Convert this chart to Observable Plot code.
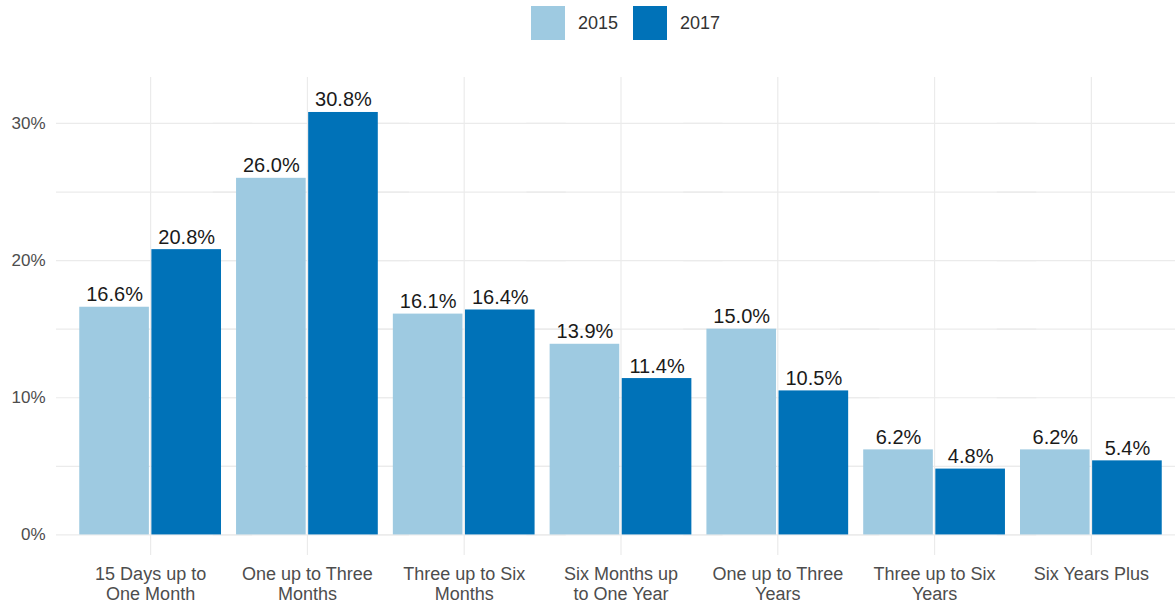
<!DOCTYPE html>
<html><head><meta charset="utf-8">
<script src="https://cdn.jsdelivr.net/npm/d3@7"></script>
<script src="https://cdn.jsdelivr.net/npm/@observablehq/plot@0.6"></script>
<style>
body{margin:0;background:#fff;font-family:"Liberation Sans",Arial,Helvetica,sans-serif;overflow:hidden;}
#legend{position:relative;height:50px;width:1175px;}
.item{position:absolute;top:6px;display:flex;align-items:center;height:34px;}
.sw{width:34px;height:34px;margin-right:13px;}
.lab{font-size:18px;color:#333;}
</style></head><body>
<div id="legend"></div><div id="chart"></div>
<script>
const categories = ["15 Days up to One Month","One up to Three Months","Three up to Six Months","Six Months up to One Year","One up to Three Years","Three up to Six Years","Six Years Plus"];
const tickLabels = ["15 Days up to\nOne Month","One up to Three\nMonths","Three up to Six\nMonths","Six Months up\nto One Year","One up to Three\nYears","Three up to Six\nYears","Six Years Plus"];
const years = ["2015","2017"];
const values2015 = [16.6, 26.0, 16.1, 13.9, 15.0, 6.2, 6.2];
const values2017 = [20.8, 30.8, 16.4, 11.4, 10.5, 4.8, 5.4];
const colors = ["#9ecae1","#0072b8"];
const yTicks = [0,10,20,30];
const yGrid = [0,5,10,15,20,25,30];
const yDomain = [-1.5, 33.35];

const data = categories.flatMap((c,i)=>[
  {category:c, year:years[0], value:values2015[i]},
  {category:c, year:years[1], value:values2017[i]}
]);

// legend
const leg = document.getElementById("legend");
const legX = [531, 633];
years.forEach((y,i)=>{
  const d = document.createElement("div");
  d.className="item"; d.style.left = legX[i]+"px";
  d.innerHTML = `<div class="sw" style="background:${colors[i]}"></div><span class="lab">${y}</span>`;
  leg.appendChild(d);
});

const labelOf = new Map(categories.map((c,i)=>[c, tickLabels[i]]));

const marks = [
  Plot.ruleY(yGrid, {stroke:"#ebebeb", strokeWidth:1.2, insetLeft:-22, insetRight:-30}),
];
if (typeof Plot.gridFx === "function") marks.push(Plot.gridFx({stroke:"#ebebeb", strokeOpacity:1, strokeWidth:1.2}));
marks.push(
  Plot.barY(data, {fx:"category", x:"year", y:"value", fill:"year", insetLeft:1.25, insetRight:1.25}),
  Plot.text(data, {fx:"category", x:"year", y:"value", text:d=>d.value.toFixed(1)+"%", lineAnchor:"bottom", dy:-6, fontSize:20, fill:"#1a1a1a"}),
  Plot.axisY({ticks:yTicks, tickFormat:d=>d+"%", tickSize:0, tickPadding:33, fontSize:17, color:"#4d4d4d", label:null}),
  Plot.axisFx({anchor:"bottom", tickSize:0, tickPadding:10, fontSize:18, lineHeight:1.12, color:"#4d4d4d", tickFormat:d=>labelOf.get(d), label:null})
);

const chart = Plot.plot({
  width:1175, height:555,
  marginLeft:57, marginRight:0, marginTop:27, marginBottom:50,
  style:{fontFamily:'"Liberation Sans",Arial,Helvetica,sans-serif', background:"#fff"},
  fx:{domain:categories, range:[57,1184], paddingInner:0.08, paddingOuter:0.134, round:false, label:null, axis:null},
  x:{domain:years, padding:0, round:false, axis:null},
  y:{domain:yDomain, axis:null},
  color:{domain:years, range:colors},
  marks
});
document.getElementById("chart").appendChild(chart);
</script>
</body></html>
